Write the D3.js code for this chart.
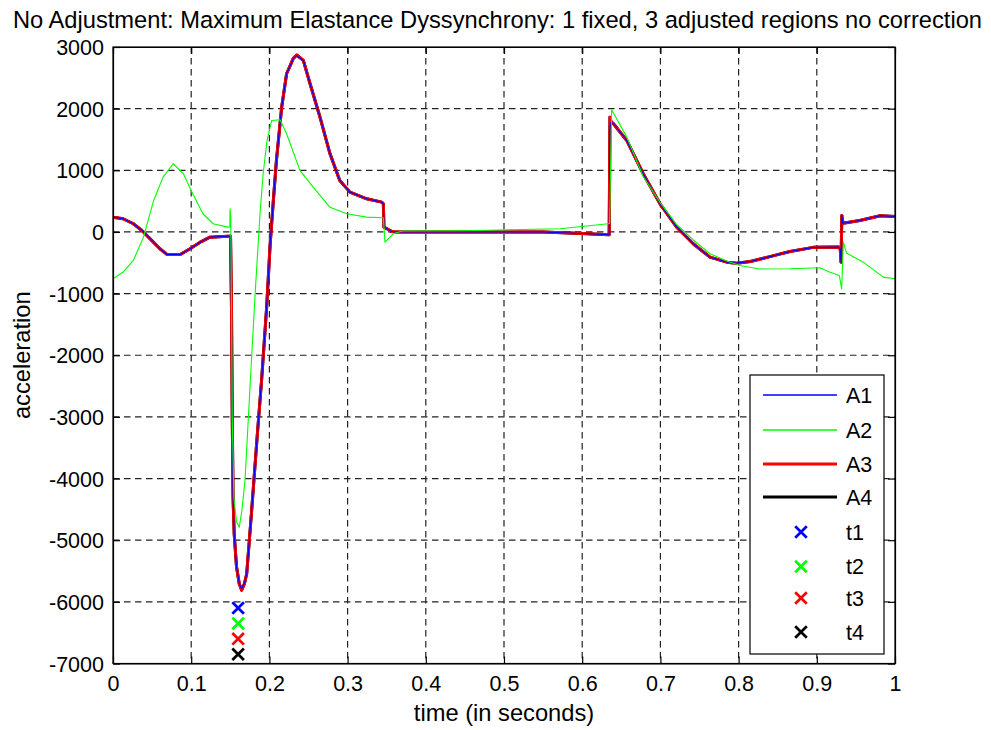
<!DOCTYPE html>
<html>
<head>
<meta charset="utf-8">
<script src="https://cdn.jsdelivr.net/npm/d3@7/dist/d3.min.js"></script>
<style>
  html, body { margin: 0; padding: 0; background: #fff; }
  svg { display: block; }
  text { font-family: "Liberation Sans", Arial, sans-serif; fill: #000; }
</style>
</head>
<body>
<svg id="chart" width="991" height="730"></svg>
<script>
// Sample times shared by A1, A3 and A4 (seconds)
const tMain = [0, 0.013, 0.026, 0.037, 0.0516, 0.060, 0.069, 0.086, 0.0985, 0.111, 0.124, 0.147, 0.1503,
  0.1515, 0.1525, 0.1535, 0.155, 0.158, 0.1615, 0.1645, 0.168, 0.171, 0.177, 0.184, 0.19, 0.1965, 0.201,
  0.205, 0.209, 0.2157, 0.222, 0.2306, 0.2349, 0.2434, 0.252, 0.2647, 0.2775, 0.290, 0.303, 0.3244, 0.3436,
  0.3457, 0.3465, 0.352, 0.356, 0.36, 0.45, 0.55, 0.60, 0.6345, 0.6355, 0.637, 0.64, 0.657, 0.678, 0.6995,
  0.7208, 0.742, 0.7634, 0.785, 0.7975, 0.815, 0.84, 0.8657, 0.8955, 0.928, 0.9300, 0.9310, 0.9320, 0.9335,
  0.955, 0.981, 1.0];

const a1 = [240, 214, 133, 24, -165, -273, -365, -365, -273, -170, -84, -70, -70,
  -1200, -3000, -4300, -4900, -5436, -5700, -5790, -5700, -5544, -4571, -3382, -2409, -1220, -192,
  500, 1160, 2024, 2566, 2810, 2863, 2782, 2404, 1862, 1268, 835, 646, 538, 484,
  457, 78, 40, 10, 0, 0, 0, -25, -45, 1700, 1780, 1755, 1484, 944, 457,
  78, -192, -409, -490, -506, -480, -400, -316, -250, -246, -280, -490, 268, 140,
  187, 262, 250];

const a3 = [240, 214, 133, 24, -165, -273, -365, -365, -273, -170, -84, -70, -70,
  -1200, -3000, -4300, -4900, -5436, -5710, -5810, -5710, -5544, -4571, -3382, -2409, -1220, -192,
  500, 1160, 2024, 2566, 2815, 2870, 2782, 2404, 1862, 1268, 835, 646, 538, 484,
  457, 78, 40, 10, 0, 0, 0, -25, -45, 1860, 1790, 1755, 1484, 944, 457,
  78, -192, -409, -490, -506, -480, -400, -316, -250, -246, -280, -490, 268, 140,
  187, 262, 250];

const a4 = [240, 214, 133, 24, -165, -273, -365, -365, -273, -170, -84, -70, -70,
  -1200, -3000, -4300, -4900, -5436, -5710, -5810, -5710, -5544, -4571, -3382, -2409, -1220, -192,
  500, 1160, 2024, 2566, 2815, 2870, 2782, 2404, 1862, 1268, 835, 646, 538, 484,
  457, 78, 40, 10, 0, 0, 0, -25, -45, 1860, 1790, 1755, 1484, 944, 457,
  78, -192, -409, -490, -506, -480, -400, -316, -250, -246, -280, -490, 268, 140,
  187, 262, 250];

// Sample times and values for A2
const tA2 = [0, 0.013, 0.026, 0.039, 0.052, 0.064, 0.077, 0.09, 0.102, 0.115, 0.128, 0.147, 0.1494, 0.1497,
  0.1505, 0.1515, 0.1525, 0.1545, 0.158, 0.1615, 0.165, 0.1688, 0.1752, 0.182, 0.188, 0.192, 0.197, 0.203,
  0.2136, 0.222, 0.239, 0.256, 0.2775, 0.299, 0.3244, 0.3457, 0.3478, 0.3585, 0.37, 0.45, 0.5716, 0.6334,
  0.6350, 0.6377, 0.657, 0.678, 0.70, 0.72, 0.742, 0.7634, 0.785, 0.8018, 0.827, 0.8657, 0.904, 0.917,
  0.9288, 0.9318, 0.934, 0.938, 0.9595, 0.985, 1.0];

const a2 = [-760, -650, -462, -84, 511, 889, 1106, 944, 620, 295, 133, 78, 80, 376,
  250, -1200, -3000, -4300, -4700, -4790, -4500, -4030, -2520, -949, 295, 944, 1484, 1809,
  1820, 1593, 998, 727, 400, 295, 240, 230, -165, -29, 15, 20, 52, 133,
  140, 1982, 1538, 900, 470, 130, -130, -354, -470, -543, -600, -597, -581, -652,
  -706, -922, -165, -343, -490, -733, -760];

// Event markers t1..t4
const markerNames = ["t1", "t2", "t3", "t4"];
const markerTimes = [0.16, 0.16, 0.16, 0.16];
const markerValues = [-6100, -6350, -6600, -6850];

const xTicks = [0, 0.1, 0.2, 0.3, 0.4, 0.5, 0.6, 0.7, 0.8, 0.9, 1];
const yTicks = [-7000, -6000, -5000, -4000, -3000, -2000, -1000, 0, 1000, 2000, 3000];

const titleText = "No Adjustment: Maximum Elastance Dyssynchrony: 1 fixed, 3 adjusted regions no correction";
const xLabel = "time (in seconds)";
const yLabel = "acceleration";

const svg = d3.select("#chart");
const L = 113, R = 895, T = 47, B = 663.5;
const x = d3.scaleLinear().domain([0, 1]).range([L, R]);
const y = d3.scaleLinear().domain([-7000, 3000]).range([B, T]);

const tickFont = 21.5, labelFont = 23.7;

// Dashed grid at interior ticks
const grid = svg.append("g").attr("stroke", "#222").attr("stroke-width", 1.2)
  .attr("stroke-dasharray", "6.5,4.5");
xTicks.filter(v => v > 0 && v < 1).forEach(v => {
  grid.append("line").attr("x1", x(v)).attr("x2", x(v)).attr("y1", T).attr("y2", B);
});
yTicks.filter(v => v > -7000 && v < 3000).forEach(v => {
  grid.append("line").attr("x1", L).attr("x2", R).attr("y1", y(v)).attr("y2", y(v));
});

// Series
const line = d3.line().x(d => x(d[0])).y(d => y(d[1]));
const series = [
  { name: "A4", t: tMain, v: a4, color: "#000000", w: 3 },
  { name: "A3", t: tMain, v: a3, color: "#ff0000", w: 3 },
  { name: "A1", t: tMain, v: a1, color: "#0000ff", w: 1.1 },
  { name: "A2", t: tA2, v: a2, color: "#00ff00", w: 1.1 }
];
const plot = svg.append("g");
series.forEach(s => {
  plot.append("path")
    .datum(s.t.map((t, i) => [t, s.v[i]]))
    .attr("fill", "none")
    .attr("stroke", s.color)
    .attr("stroke-width", s.w)
    .attr("stroke-linejoin", "round")
    .attr("d", line);
});

const markerColors = ["#0000ff", "#00ff00", "#ff0000", "#000000"];
function cross(g, cx, cy, color) {
  const h = 5.8;
  g.append("path")
    .attr("d", `M${cx - h},${cy - h}L${cx + h},${cy + h}M${cx - h},${cy + h}L${cx + h},${cy - h}`)
    .attr("stroke", color).attr("stroke-width", 2.7).attr("fill", "none");
}
markerNames.forEach((n, i) => cross(plot, x(markerTimes[i]), y(markerValues[i]), markerColors[i]));

// Axes (ticks inward on all four sides); labels use a plain hyphen for negatives
const fmtX = d => String(+d.toFixed(1));
const fmtY = d => String(d);
const axB = svg.append("g").attr("transform", `translate(0,${B})`)
  .call(d3.axisBottom(x).tickValues(xTicks).tickFormat(fmtX).tickSizeInner(-7).tickSizeOuter(0).tickPadding(12));
const axT = svg.append("g").attr("transform", `translate(0,${T})`)
  .call(d3.axisTop(x).tickValues(xTicks).tickFormat("").tickSizeInner(-7).tickSizeOuter(0));
const axLf = svg.append("g").attr("transform", `translate(${L},0)`)
  .call(d3.axisLeft(y).tickValues(yTicks).tickFormat(fmtY).tickSizeInner(-7).tickSizeOuter(0).tickPadding(9));
const axRt = svg.append("g").attr("transform", `translate(${R},0)`)
  .call(d3.axisRight(y).tickValues(yTicks).tickFormat("").tickSizeInner(-7).tickSizeOuter(0));
[axB, axT, axLf, axRt].forEach(g => {
  g.select(".domain").attr("stroke", "#000").attr("stroke-width", 1.2);
  g.selectAll(".tick line").attr("stroke", "#000").attr("stroke-width", 1.2);
  g.selectAll(".tick text").attr("font-size", tickFont)
    .attr("font-family", "Liberation Sans, Arial, sans-serif").attr("fill", "#000");
});
axB.selectAll(".tick text").attr("dy", "0.71em");
axLf.selectAll(".tick text").attr("dy", "0.35em");
svg.append("rect").attr("x", L).attr("y", T).attr("width", R - L).attr("height", B - T)
  .attr("fill", "none").attr("stroke", "#000").attr("stroke-width", 1.2);

// Title and axis labels
svg.append("text").attr("x", 497.5).attr("y", 28).attr("text-anchor", "middle")
  .attr("font-size", labelFont).text(titleText);
svg.append("text").attr("x", (L + R) / 2).attr("y", 721).attr("text-anchor", "middle")
  .attr("font-size", labelFont).text(xLabel);
svg.append("text").attr("transform", `translate(30,${(T + B) / 2}) rotate(-90)`)
  .attr("text-anchor", "middle").attr("font-size", labelFont).text(yLabel);

// Legend
const leg = svg.append("g");
leg.append("rect").attr("x", 750).attr("y", 375).attr("width", 134).attr("height", 279)
  .attr("fill", "#fff").attr("stroke", "#000").attr("stroke-width", 1.2);
const legendLines = [
  { name: "A1", color: "#0000ff", w: 1.3 },
  { name: "A2", color: "#00ff00", w: 1.3 },
  { name: "A3", color: "#ff0000", w: 3 },
  { name: "A4", color: "#000000", w: 3 }
];
const rowY = [395, 430, 464, 497, 532, 566.5, 598, 632];
legendLines.forEach((s, i) => {
  leg.append("line").attr("x1", 763).attr("x2", 837).attr("y1", rowY[i]).attr("y2", rowY[i])
    .attr("stroke", s.color).attr("stroke-width", s.w);
  leg.append("text").attr("x", 846).attr("y", rowY[i]).attr("dy", "0.36em")
    .attr("font-size", tickFont).text(s.name);
});
markerNames.forEach((n, i) => {
  const ry = rowY[4 + i];
  cross(leg, 801, ry, markerColors[i]);
  leg.append("text").attr("x", 846).attr("y", ry).attr("dy", "0.36em")
    .attr("font-size", tickFont).text(n);
});
</script>
</body>
</html>
